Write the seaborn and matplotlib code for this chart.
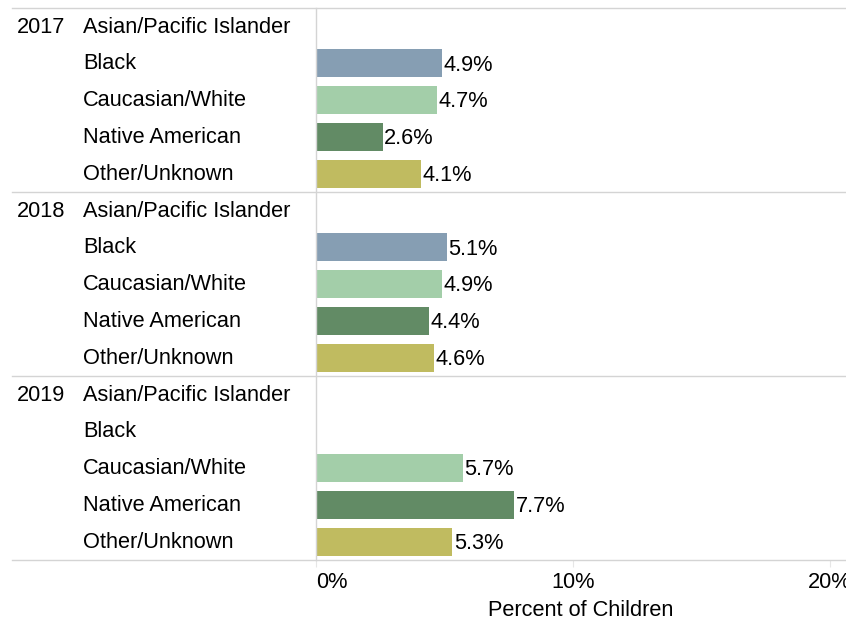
"""
Percent of children by race/ethnicity and year - horizontal bar chart.
"""
import numpy as np
import pandas as pd
import matplotlib
matplotlib.use("Agg")
import matplotlib.pyplot as plt
import seaborn as sns

# data
years = ["2017", "2018", "2019"]
categories = ["Asian/Pacific Islander", "Black", "Caucasian/White",
              "Native American", "Other/Unknown"]
values_2017 = [np.nan, 4.9, 4.7, 2.6, 4.1]
values_2018 = [np.nan, 5.1, 4.9, 4.4, 4.6]
values_2019 = [np.nan, np.nan, 5.7, 7.7, 5.3]
x_ticks = [0, 10, 20]
x_tick_labels = ["0%", "10%", "20%"]

colors = {
    "Asian/Pacific Islander": "#4e79a7",
    "Black": "#869eb3",
    "Caucasian/White": "#a3cea9",
    "Native American": "#628b65",
    "Other/Unknown": "#c0bb60",
}

rows = []
for year, vals in zip(years, [values_2017, values_2018, values_2019]):
    for cat, v in zip(categories, vals):
        rows.append({"year": year, "category": cat, "key": f"{year}|{cat}", "value": v})
df = pd.DataFrame(rows)
order = list(df["key"])
plot_df = df.dropna(subset=["value"])

plt.rcParams["font.family"] = ["Liberation Sans", "DejaVu Sans"]
fig = plt.figure(figsize=(8.46, 6.25), dpi=100)
ax = fig.add_axes([316 / 846, 1 - 560 / 625, 530 / 846, 552 / 625])

sns.barplot(data=plot_df, x="value", y="key", hue="category", order=order,
            hue_order=categories, palette=colors, dodge=False, width=0.76,
            orient="h", legend=False, ax=ax, saturation=1)

ax.set_xlim(0, 20.62)
ax.set_ylim(len(order) - 0.5, -0.5)
fs = 15.7

# value labels
for _, r in plot_df.iterrows():
    i = order.index(r["key"])
    ax.text(r["value"] + 0.06, i + 0.05, f"{r['value']:.1f}%", va="center",
            ha="left", fontsize=fs, color="black")

# row headers (year / category)
trans = ax.get_yaxis_transform()
for i, r in df.iterrows():
    if r["category"] == categories[0]:
        ax.text(-0.5642, i + 0.02, r["year"], transform=trans, ha="left",
                va="center", fontsize=fs, clip_on=False)
    ax.text(-0.4396, i + 0.02, r["category"], transform=trans, ha="left",
            va="center", fontsize=fs, clip_on=False)

# separators between year groups
grid_c = "#d4d4d4"
for yy in [-0.5, 4.5, 9.5, 14.5]:
    ax.axhline(yy, xmin=-0.574, xmax=1, color=grid_c, lw=1, clip_on=False)

for s in ["top", "right", "bottom"]:
    ax.spines[s].set_visible(False)
ax.spines["left"].set_color(grid_c)
ax.spines["left"].set_linewidth(1)

ax.set_yticks([])
ax.set_ylabel("")
ax.set_xticks(x_ticks)
ax.set_xticklabels(x_tick_labels, fontsize=fs)
ax.tick_params(axis="x", length=5, color="#e6e6e6", pad=4)
ax.get_xticklabels()[0].set_ha("left")
ax.set_xlabel("Percent of Children", fontsize=fs, labelpad=5)

fig.savefig("out.png", dpi=100)
